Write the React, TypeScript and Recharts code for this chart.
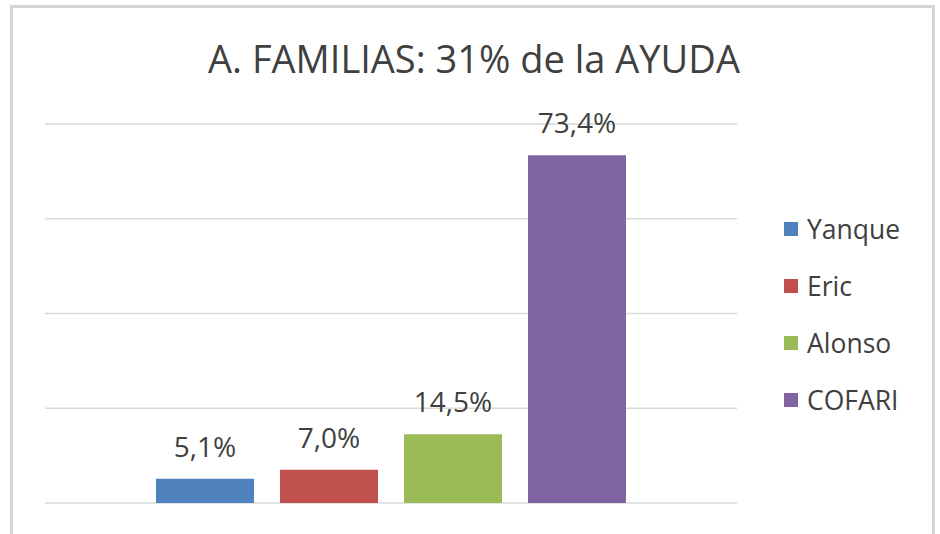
import React, { type ReactElement } from "react";
import {
  Bar,
  BarChart,
  CartesianGrid,
  LabelList,
  XAxis,
  YAxis,
} from "recharts";

const seriesNames = ["Yanque", "Eric", "Alonso", "COFARI"];
const seriesValues = [5.1, 7.0, 14.5, 73.4];
const seriesColors = ["#4F81BD", "#C0504D", "#9BBB59", "#8064A2"];
const yTicks = [0, 20, 40, 60, 80];
const title = "A. FAMILIAS: 31% de la AYUDA";

const FONT = "'Open Sans', 'DejaVu Sans', sans-serif";
const TEXT_COLOR = "#404040";

const row: Record<string, string | number> = { name: "A" };
seriesNames.forEach((n, i) => {
  row[n] = seriesValues[i];
});
const data = [row];

const formatPct = (v: unknown): string =>
  `${Number(v).toFixed(1).replace(".", ",")}%`;

// legend drawn beside the plot, rows spaced like the Excel original
const LegendBox = (): ReactElement => (
  <div
    style={{
      position: "absolute",
      left: 784,
      top: 200,
      fontFamily: FONT,
    }}
  >
    {seriesNames.map((n, i) => (
      <div
        key={n}
        style={{
          display: "flex",
          alignItems: "center",
          height: 57,
          color: TEXT_COLOR,
          fontSize: 26.5,
          whiteSpace: "nowrap",
        }}
      >
        <span
          style={{
            display: "inline-block",
            width: 14,
            height: 14,
            background: seriesColors[i],
            marginRight: 9,
          }}
        />
        <span>{n}</span>
      </div>
    ))}
  </div>
);

export default function App(): ReactElement {
  return (
    <div
      style={{
        position: "absolute",
        left: 0,
        top: 0,
        width: 940,
        height: 534,
        background: "#fff",
        overflow: "hidden",
      }}
    >
      <svg
        width={940}
        height={534}
        style={{ position: "absolute", left: 0, top: 0 }}
      >
        <rect
          x={11.5}
          y={6.5}
          width={922}
          height={560}
          fill="none"
          stroke="#d4d4d4"
          strokeWidth={3}
        />
        <text
          x={474}
          y={73}
          textAnchor="middle"
          fontFamily={FONT}
          fontSize={38}
          fill={TEXT_COLOR}
        >
          {title}
        </text>
      </svg>
      <div style={{ position: "absolute", left: 0, top: 0 }}>
        <BarChart
          width={940}
          height={534}
          data={data}
          margin={{ top: 124, right: 203, bottom: 31, left: 45 }}
          barGap={26}
        >
          <CartesianGrid
            vertical={false}
            stroke="#d9d9d9"
            strokeWidth={1.5}
          />
          <XAxis dataKey="name" hide />
          <YAxis hide domain={[0, 80]} ticks={yTicks} />
          {seriesNames.map((n, i) => (
            <Bar
              key={n}
              dataKey={n}
              fill={seriesColors[i]}
              barSize={98}
              isAnimationActive={false}
            >
              <LabelList
                dataKey={n}
                position="top"
                offset={22}
                formatter={formatPct}
                style={{
                  fontFamily: FONT,
                  fontSize: 28,
                  fill: TEXT_COLOR,
                }}
              />
            </Bar>
          ))}
        </BarChart>
      </div>
      <LegendBox />
    </div>
  );
}
